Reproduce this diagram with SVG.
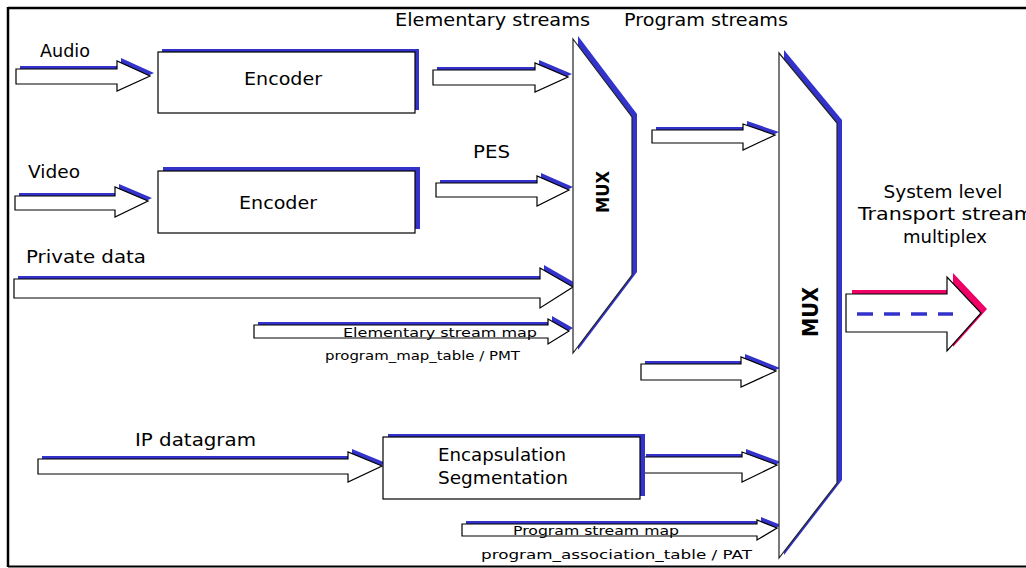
<svg xmlns="http://www.w3.org/2000/svg" xmlns:xlink="http://www.w3.org/1999/xlink" width="1026" height="568" viewBox="0 0 1026 568">
  <style>
    .body { fill: #ffffff; stroke: #000000; stroke-width: 1.2; }
    .shadow { fill: #3333cc; stroke: none; }
    .pink { fill: #ee0066; stroke: none; }
    .mux { fill: #ffffff; stroke: #222222; stroke-width: 1.2; }
    text { font-family: "DejaVu Sans", "Liberation Sans", sans-serif; fill: #000000; }
    .lbl { font-size: 17px; }
    .sm { font-size: 13px; }
    .box { font-size: 18px; text-anchor: middle; }
    .muxt { font-weight: bold; text-anchor: middle; dominant-baseline: central; }
  </style>
  <defs>
    <!-- block arrow outlines: tail, head start, tip -->
    <polygon id="arAudio" points="16,69 117,69 117,61 150,76 117,91 117,84 16,84"/>
    <polygon id="arVideo" points="15,196 115,196 115,187 148,201 115,217 115,210 15,210"/>
    <polygon id="arEs" points="433,70 535,70 535,63 568,77 535,92 535,85 433,85"/>
    <polygon id="arPes" points="436,183 537,183 537,176 569,190 537,206 537,197 436,197"/>
    <polygon id="arPriv" points="14,279 540,279 540,268 573,287 540,308 540,298 14,298"/>
    <polygon id="arEsm" points="254,325 548,325 548,319 569,331 548,344 548,338 254,338"/>
    <polygon id="arPa" points="652,130 743,130 743,124 775,135 743,150 743,143 652,143"/>
    <polygon id="arPb" points="641,364 741,364 741,357 776,371 741,387 741,380 641,380"/>
    <polygon id="arPc" points="642,457 742,457 742,452 777,465 742,482 742,473 642,473"/>
    <polygon id="arPd" points="462,524 757,524 757,520 777,528 757,540 757,536 462,536"/>
    <polygon id="arIp" points="38,459 348,459 348,452 382,466 348,482 348,474 38,474"/>
    <polygon id="arOut" points="846,294 947,294 947,277 981,313 947,351 947,332 846,332"/>
    <polygon id="mux1" points="573,39 632,117 632,275 573,353"/>
    <polygon id="mux2" points="779,53 837,123 837,483 779,558"/>
  </defs>

  <!-- page frame -->
  <g id="frame" fill="none" stroke="#000000">
    <line x1="8" y1="8" x2="1026" y2="8" stroke-width="2.5"/>
    <line x1="8" y1="7" x2="8" y2="567" stroke-width="2.5"/>
    <line x1="8" y1="566.5" x2="1026" y2="566.5" stroke-width="2"/>
  </g>

  <!-- connectors: block arrows with offset shadows -->
  <g id="connectors">
    <use xlink:href="#arAudio" class="shadow" transform="translate(4,-3)"/>
    <use xlink:href="#arAudio" class="body"/>
    <use xlink:href="#arVideo" class="shadow" transform="translate(4,-3)"/>
    <use xlink:href="#arVideo" class="body"/>
    <use xlink:href="#arEs" class="shadow" transform="translate(4,-3)"/>
    <use xlink:href="#arEs" class="body"/>
    <use xlink:href="#arPes" class="shadow" transform="translate(4,-3)"/>
    <use xlink:href="#arPes" class="body"/>
    <use xlink:href="#arPriv" class="shadow" transform="translate(4,-3)"/>
    <use xlink:href="#arPriv" class="body"/>
    <use xlink:href="#arEsm" class="shadow" transform="translate(4,-3)"/>
    <use xlink:href="#arEsm" class="body"/>
    <use xlink:href="#arPa" class="shadow" transform="translate(4,-3)"/>
    <use xlink:href="#arPa" class="body"/>
    <use xlink:href="#arPb" class="shadow" transform="translate(4,-3)"/>
    <use xlink:href="#arPb" class="body"/>
    <use xlink:href="#arPc" class="shadow" transform="translate(4,-3)"/>
    <use xlink:href="#arPc" class="body"/>
    <use xlink:href="#arPd" class="shadow" transform="translate(4,-3)"/>
    <use xlink:href="#arPd" class="body"/>
    <use xlink:href="#arIp" class="shadow" transform="translate(4,-3)"/>
    <use xlink:href="#arIp" class="body"/>
  </g>

  <!-- encoders -->
  <g id="encoder-audio">
    <rect x="162" y="49" width="257" height="61" class="shadow"/>
    <rect x="158" y="52" width="257" height="61" class="body"/>
    <text x="283" y="85" class="box" textLength="78" lengthAdjust="spacingAndGlyphs">Encoder</text>
  </g>
  <g id="encoder-video">
    <rect x="163" y="167" width="257" height="62" class="shadow"/>
    <rect x="158" y="171" width="257" height="62" class="body"/>
    <text x="278" y="209" class="box" textLength="78" lengthAdjust="spacingAndGlyphs">Encoder</text>
  </g>
  <g id="encapsulation">
    <rect x="388" y="434" width="257" height="62" class="shadow"/>
    <rect x="383" y="437" width="257" height="62" class="body"/>
    <text x="502" y="461" class="box" textLength="128" lengthAdjust="spacingAndGlyphs">Encapsulation</text>
    <text x="503" y="484" class="box" textLength="130" lengthAdjust="spacingAndGlyphs">Segmentation</text>
  </g>

  <!-- multiplexers -->
  <g id="mux-program">
    <use xlink:href="#mux1" class="shadow" transform="translate(5,-3)"/>
    <use xlink:href="#mux1" class="mux"/>
    <text class="muxt" font-size="18" transform="translate(602,192) rotate(-90)" textLength="42" lengthAdjust="spacingAndGlyphs">MUX</text>
  </g>
  <g id="mux-transport">
    <use xlink:href="#mux2" class="shadow" transform="translate(5,-3)"/>
    <use xlink:href="#mux2" class="mux"/>
    <text class="muxt" font-size="21" transform="translate(811,312) rotate(-90)" textLength="50" lengthAdjust="spacingAndGlyphs">MUX</text>
  </g>

  <!-- transport stream output -->
  <g id="output">
    <use xlink:href="#arOut" class="pink" transform="translate(6,-4)"/>
    <use xlink:href="#arOut" class="body"/>
    <line x1="857" y1="314" x2="953" y2="314" stroke="#3333cc" stroke-width="3.5" stroke-dasharray="16,11"/>
    <text x="943" y="198" class="lbl" text-anchor="middle" textLength="119" lengthAdjust="spacingAndGlyphs">System level</text>
    <text x="858" y="220" class="lbl" textLength="176" lengthAdjust="spacingAndGlyphs">Transport stream</text>
    <text x="945" y="243" class="lbl" text-anchor="middle" textLength="84" lengthAdjust="spacingAndGlyphs">multiplex</text>
  </g>

  <!-- stream labels -->
  <g id="labels">
    <text x="40" y="57" class="lbl" textLength="50" lengthAdjust="spacingAndGlyphs">Audio</text>
    <text x="28" y="178" class="lbl" textLength="52" lengthAdjust="spacingAndGlyphs">Video</text>
    <text x="26" y="263" class="lbl" textLength="120" lengthAdjust="spacingAndGlyphs">Private data</text>
    <text x="395" y="26" class="lbl" textLength="195" lengthAdjust="spacingAndGlyphs">Elementary streams</text>
    <text x="624" y="26" class="lbl" textLength="164" lengthAdjust="spacingAndGlyphs">Program streams</text>
    <text x="473" y="158" class="lbl" textLength="37" lengthAdjust="spacingAndGlyphs">PES</text>
    <text x="343" y="337" class="sm" textLength="194" lengthAdjust="spacingAndGlyphs">Elementary stream map</text>
    <text x="325" y="360" class="sm" textLength="195" lengthAdjust="spacingAndGlyphs">program_map_table / PMT</text>
    <text x="135" y="446" class="lbl" textLength="121" lengthAdjust="spacingAndGlyphs">IP datagram</text>
    <text x="513" y="535" class="sm" textLength="166" lengthAdjust="spacingAndGlyphs">Program stream map</text>
    <text x="481" y="559" class="sm" textLength="271" lengthAdjust="spacingAndGlyphs">program_association_table / PAT</text>
  </g>
</svg>
